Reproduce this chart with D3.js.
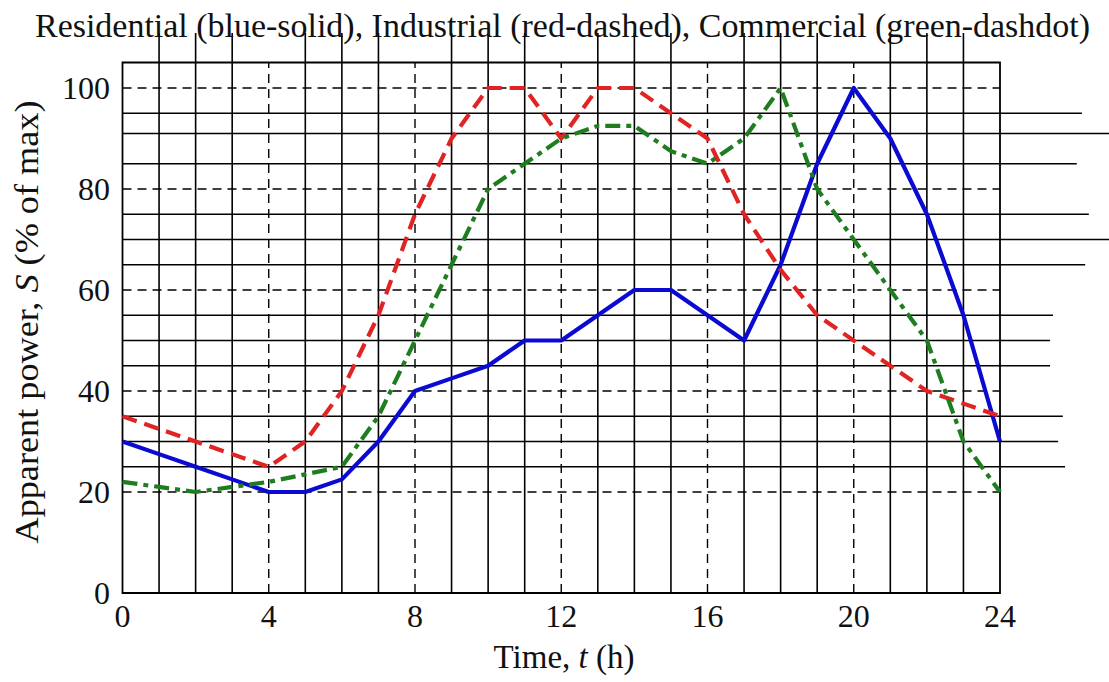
<!DOCTYPE html>
<html>
<head>
<meta charset="utf-8">
<script src="https://cdn.jsdelivr.net/npm/d3@7"></script>
<style>
  html, body { margin: 0; padding: 0; background: #fff; }
  svg { display: block; }
  text { font-family: "Liberation Serif", "Times New Roman", Times, serif; fill: #111; }
</style>
</head>
<body>
<svg id="chart" width="1109" height="682"></svg>
<script>
// ---- data ----
const hours = [0,1,2,3,4,5,6,7,8,9,10,11,12,13,14,15,16,17,18,19,20,21,22,23,24];
const residential = [30,27.5,25,22.5,20,20,22.5,30,40,42.5,45,50,50,55,60,60,55,50,65,85,100,90,75,55,30];
const industrial  = [35,32.5,30,27.5,25,30,40,55,75,90,100,100,90,100,100,95,90,75,64,55,50,45,40,37.5,35];
const commercial  = [22,21,20,21,22,23.5,25,35,50,65,80,85,90,92.5,92.5,87.5,85,90,100,80,70,60,50,30,20];
const xTicks = [0,4,8,12,16,20,24];
const yTicks = [0,20,40,60,80,100];
// extra solid horizontal rules of the scanned grid: level and where each rule ends (in hours)
const ruleLevels = [95,91,85,75,70,65,55,50,45,35,30,25];
const ruleEnds   = [26.24,27.5,26.1,26.43,27.5,26.33,25.45,25.37,25.37,25.72,25.59,25.78];
const titleText = "Residential (blue-solid), Industrial (red-dashed), Commercial (green-dashdot)";

// ---- scales ----
const svg = d3.select("#chart");
svg.append("rect").attr("width",1109).attr("height",682).attr("fill","#fff");
const x = d3.scaleLinear().domain([0,24]).range([122.5,1000]);
const y = d3.scaleLinear().domain([0,100]).range([593,88]);
const yTop = y(105.05);      // frame top
const yAbove = y(110.9);     // hourly rules reach above the frame

const grid = svg.append("g");
grid.selectAll("line.vs").data(hours.filter(h => h % 4 !== 0)).join("line")
  .attr("x1", d => x(d)).attr("x2", d => x(d))
  .attr("y1", y(0)).attr("y2", yAbove)
  .attr("stroke","#000").attr("stroke-width",1.6);
grid.selectAll("line.vd").data(xTicks.filter(h => h > 0 && h < 24)).join("line")
  .attr("x1", d => x(d)).attr("x2", d => x(d))
  .attr("y1", y(0)).attr("y2", yTop)
  .attr("stroke","#000").attr("stroke-width",1.4).attr("stroke-dasharray","9,6");
grid.selectAll("line.hs").data(ruleLevels).join("line")
  .attr("x1", x(0)).attr("x2", (d,i) => x(ruleEnds[i]))
  .attr("y1", d => y(d)).attr("y2", d => y(d))
  .attr("stroke","#000").attr("stroke-width",1.6);
grid.selectAll("line.hd").data(yTicks.filter(v => v > 0)).join("line")
  .attr("x1", x(0)).attr("x2", x(24))
  .attr("y1", d => y(d)).attr("y2", d => y(d))
  .attr("stroke","#000").attr("stroke-width",1.4).attr("stroke-dasharray","9,6");
grid.append("path")
  .attr("d", `M${x(0)},${yTop}H${x(24)}V${y(0)}H${x(0)}Z`)
  .attr("fill","none").attr("stroke","#000").attr("stroke-width",1.8);

// ---- series ----
const line = d3.line().x((d,i) => x(hours[i])).y(d => y(d));
const series = [
  {vals: residential, color: "#0a0ad2", dash: null},
  {vals: industrial,  color: "#e02424", dash: "15,8"},
  {vals: commercial,  color: "#1e7d1e", dash: "15,6,5,6"}
];
svg.append("g").selectAll("path").data(series).join("path")
  .attr("d", d => line(d.vals))
  .attr("fill","none")
  .attr("stroke", d => d.color)
  .attr("stroke-width", 4.2)
  .attr("stroke-linejoin","round")
  .attr("stroke-dasharray", d => d.dash);

// ---- axes labels ----
svg.append("g").selectAll("text").data(xTicks).join("text")
  .attr("x", d => x(d)).attr("y", 627)
  .attr("text-anchor","middle").attr("font-size",32)
  .text(d => d);
svg.append("g").selectAll("text").data(yTicks).join("text")
  .attr("x", 110).attr("y", d => y(d) + 11)
  .attr("text-anchor","end").attr("font-size",32)
  .text(d => d);

const xt = svg.append("text").attr("x", 564).attr("y", 668)
  .attr("text-anchor","middle").attr("font-size",33);
xt.append("tspan").text("Time, ");
xt.append("tspan").attr("font-style","italic").text("t");
xt.append("tspan").text(" (h)");

const yt = svg.append("text")
  .attr("transform","translate(38,322) rotate(-90)")
  .attr("text-anchor","middle").attr("font-size",34)
  .attr("textLength",443).attr("lengthAdjust","spacingAndGlyphs");
yt.append("tspan").text("Apparent power, ");
yt.append("tspan").attr("font-style","italic").text("S");
yt.append("tspan").text(" (% of max)");

svg.append("text").attr("x", 35).attr("y", 37)
  .attr("font-size",33)
  .attr("textLength",1055).attr("lengthAdjust","spacingAndGlyphs")
  .text(titleText);
</script>
</body>
</html>
